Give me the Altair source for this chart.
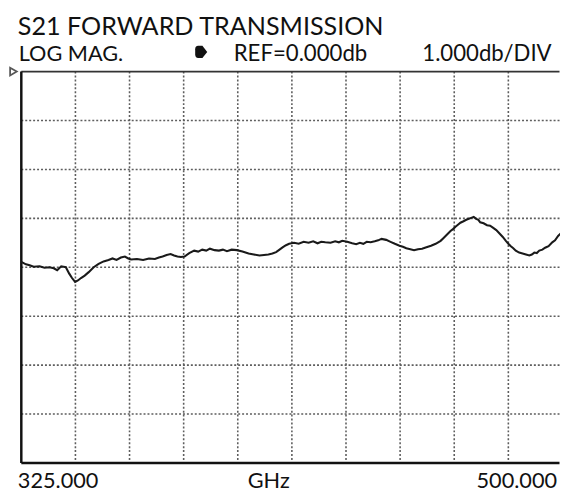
import altair as alt
import pandas as pd

# ---- data ----
freq_ghz = [325.0, 326.5, 327.7, 329.0, 330.9, 332.5, 334.1, 335.5, 336.6, 337.9, 339.4, 340.5,
            341.4, 342.4, 343.3, 344.3, 345.5, 346.8, 348.4, 350.0, 351.6, 353.2, 354.5, 355.8,
            357.2, 358.5, 359.6, 360.5, 362.4, 364.4, 366.3, 368.2, 369.5, 370.7, 372.0, 373.3,
            374.4, 375.5, 376.6, 377.8, 379.3, 380.9, 382.2, 383.5, 384.8, 386.0, 387.5, 388.9,
            390.2, 391.5, 393.0, 394.7, 396.5, 398.5, 400.2, 402.0, 403.5, 404.9, 406.2, 407.4,
            408.5, 409.6, 410.6, 411.6, 413.2, 414.7, 416.3, 417.9, 419.4, 420.8, 422.0, 423.3,
            425.0, 426.5, 427.7, 428.8, 430.4, 432.0, 433.3, 434.5, 435.6, 436.7, 438.0, 439.3,
            440.4, 441.5, 443.0, 444.4, 445.8, 447.3, 448.4, 449.5, 450.8, 452.0, 453.3, 454.6,
            456.0, 457.5, 459.0, 460.6, 461.4, 462.2, 463.0, 463.8, 464.6, 465.4, 466.2, 467.0,
            468.0, 468.9, 469.7, 470.5, 471.3, 472.1, 472.8, 473.4, 474.5, 475.6, 476.6, 477.5,
            478.6, 479.8, 480.7, 481.7, 482.5, 483.3, 484.1, 484.9, 486.0, 487.1, 488.2, 489.3,
            490.1, 490.9, 491.7, 492.5, 493.5, 494.4, 495.5, 496.7, 497.6, 498.6, 499.9]
s21_db = [-3.89, -3.94, -3.96, -3.99, -3.98, -4.01, -4.00, -4.02, -4.06, -3.98, -4.00, -4.13,
          -4.22, -4.30, -4.27, -4.22, -4.17, -4.10, -4.00, -3.93, -3.88, -3.85, -3.82, -3.85,
          -3.80, -3.78, -3.82, -3.84, -3.83, -3.85, -3.82, -3.83, -3.80, -3.78, -3.75, -3.73,
          -3.76, -3.78, -3.79, -3.78, -3.71, -3.66, -3.68, -3.64, -3.66, -3.62, -3.65, -3.66,
          -3.64, -3.67, -3.64, -3.65, -3.68, -3.72, -3.74, -3.76, -3.75, -3.74, -3.72, -3.69,
          -3.64, -3.59, -3.55, -3.52, -3.50, -3.52, -3.48, -3.50, -3.47, -3.51, -3.48, -3.49,
          -3.50, -3.47, -3.49, -3.46, -3.48, -3.51, -3.53, -3.50, -3.52, -3.48, -3.49, -3.47,
          -3.45, -3.42, -3.44, -3.48, -3.52, -3.56, -3.58, -3.61, -3.63, -3.65, -3.63, -3.62,
          -3.59, -3.56, -3.52, -3.46, -3.41, -3.36, -3.31, -3.26, -3.22, -3.17, -3.13, -3.09,
          -3.06, -3.03, -3.01, -2.99, -2.97, -3.01, -3.03, -3.08, -3.10, -3.14, -3.15, -3.19,
          -3.24, -3.32, -3.38, -3.46, -3.52, -3.57, -3.61, -3.66, -3.70, -3.72, -3.74, -3.76,
          -3.74, -3.70, -3.71, -3.66, -3.64, -3.60, -3.57, -3.49, -3.45, -3.36, -3.28]

x_min, x_max = 325.0, 500.0
db_min, db_max = -8.0, 0.0
x_grid = [342.5, 360.0, 377.5, 395.0, 412.5, 430.0, 447.5, 465.0, 482.5]
y_grid = [-1, -2, -3, -4, -5, -6, -7]

title_text = "S21 FORWARD TRANSMISSION"
hdr_left, hdr_mid, hdr_right = "LOG MAG.", "REF=0.000db", "1.000db/DIV"
foot_left, foot_mid, foot_right = "325.000", "GHz", "500.000"

W, H = 546, 397
x_vis_max = x_min + (x_max - x_min) * W / 549.0
FONT = "Lato"

xs = alt.Scale(domain=[x_min, x_vis_max], nice=False, zero=False)
ys = alt.Scale(domain=[db_min, db_max], nice=False, zero=False)

trace = pd.DataFrame({"f": freq_ghz, "db": s21_db})

grid_v = alt.Chart(pd.DataFrame({"f": x_grid})).mark_rule(
    color="#5e5e5e", strokeDash=[2, 2], strokeWidth=1.6
).encode(x=alt.X("f:Q", scale=xs, axis=None))

grid_h = alt.Chart(pd.DataFrame({"db": y_grid})).mark_rule(
    color="#5e5e5e", strokeDash=[2, 2], strokeWidth=1.6
).encode(y=alt.Y("db:Q", scale=ys, axis=None))

left_border = alt.Chart(pd.DataFrame({"f": [x_min]})).mark_rule(
    color="#111", strokeWidth=2.5
).encode(x=alt.X("f:Q", scale=xs, axis=None))

bottom_border = alt.Chart(pd.DataFrame({"db": [db_min]})).mark_rule(
    color="#111", strokeWidth=2.5
).encode(y=alt.Y("db:Q", scale=ys, axis=None))

top_border = alt.Chart(pd.DataFrame({"db": [db_max]})).mark_rule(
    color="#333", strokeWidth=1.6
).encode(y=alt.Y("db:Q", scale=ys, axis=None))

line = alt.Chart(trace).mark_line(color="#1a1a1a", strokeWidth=2.1).encode(
    x=alt.X("f:Q", scale=xs, axis=None),
    y=alt.Y("db:Q", scale=ys, axis=None),
)

ref_marker = alt.Chart(pd.DataFrame({"f": [x_min], "db": [db_max]})).mark_point(
    shape="triangle-right", filled=False, color="#111", strokeWidth=1.8, size=60, xOffset=-8
).encode(x=alt.X("f:Q", scale=xs, axis=None), y=alt.Y("db:Q", scale=ys, axis=None))

def txt(label, x, y, size, align="left"):
    return alt.Chart(pd.DataFrame({"t": [label]})).mark_text(
        font=FONT, fontSize=size, align=align, baseline="alphabetic", color="#111"
    ).encode(text="t:N", x=alt.value(x), y=alt.value(y))

title = txt(title_text, -3.5, -37, 25.5)
h1 = txt(hdr_left, -2.7, -11, 22)
h2 = txt(hdr_mid, 215.5, -11, 22.5)
h3 = txt(hdr_right, 538, -11, 22.5, "right")
f1 = txt(foot_left, -3.5, 422, 22)
f2 = txt(foot_mid, 251, 422, 22, "center")
f3 = txt(foot_right, 543.5, 422, 22, "right")

arrow = alt.Chart(pd.DataFrame({"t": [hdr_mid]})).mark_point(
    shape="M-0.5,-1 L0.2,-1 L1,0 L0.2,1 L-0.5,1 Q-1,1 -1,0.4 L-1,-0.4 Q-1,-1 -0.5,-1 Z",
    filled=True, color="#111", size=150, opacity=1
).encode(x=alt.value(182.5), y=alt.value(-20))

chart = alt.layer(
    grid_v, grid_h, top_border, left_border, bottom_border, line, ref_marker,
    title, h1, h2, h3, arrow, f1, f2, f3
).properties(
    width=W, height=H,
    padding={"left": 13.5, "top": 61, "right": 0.5, "bottom": 27},
    autosize=alt.AutoSizeParams(type="none"),
).configure_view(stroke=None)

chart.save("out.html", embed_options={"renderer": "svg", "actions": False})
